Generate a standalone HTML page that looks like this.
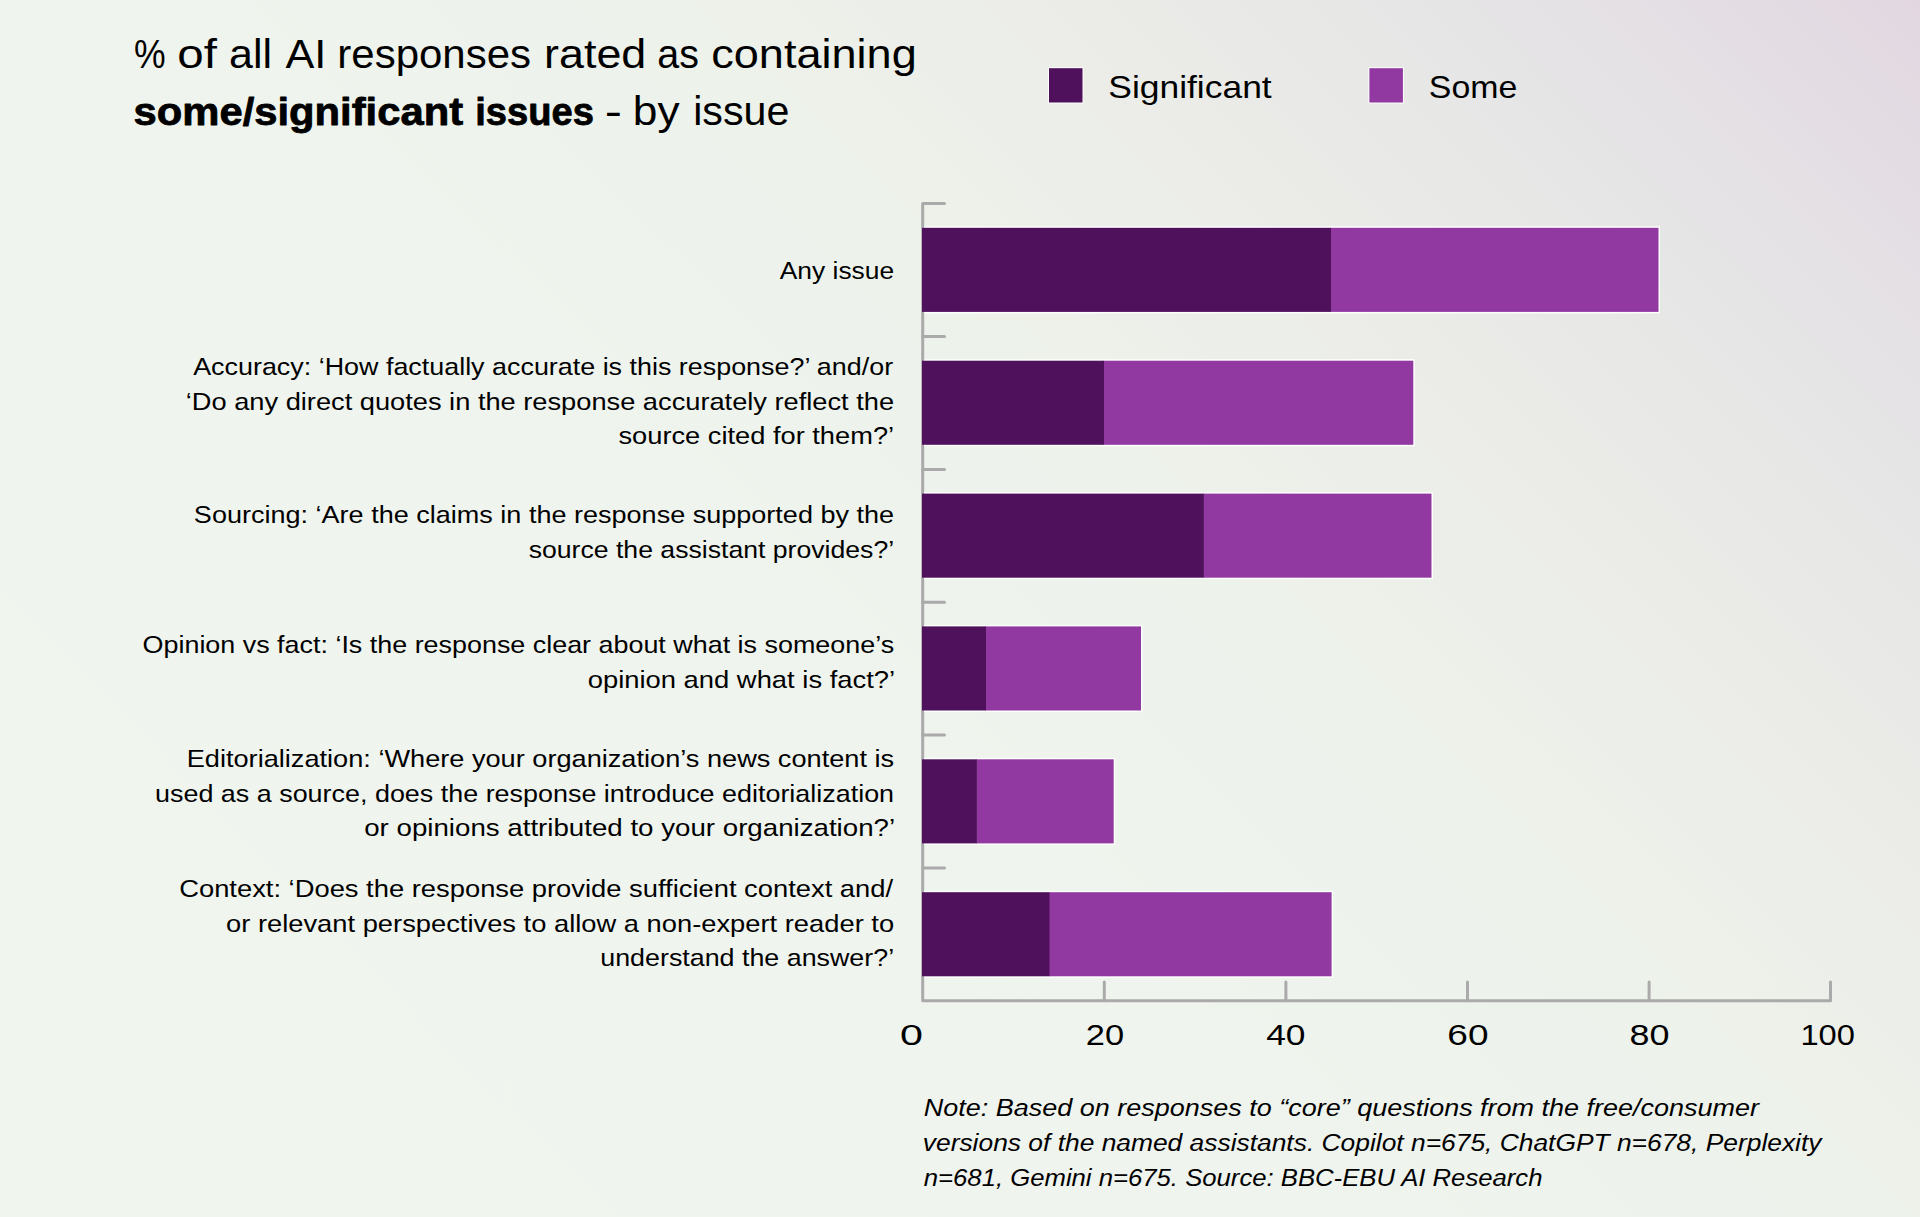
<!DOCTYPE html>
<html lang="en">
<head>
<meta charset="utf-8">
<title>% of all AI responses rated as containing some/significant issues - by issue</title>
<style>
html,body{margin:0;padding:0;}
body{width:1920px;height:1217px;overflow:hidden;position:relative;
 background:linear-gradient(45deg,#f0f5ee 0%,#f0f4ee 39%,#edf3ec 55%,#edf1ea 63%,#ecefe9 67%,#ecede8 71%,#e6e6e6 83.4%,#e4dfe4 91.7%,#e2d7e1 100%);
 font-family:"Liberation Sans",sans-serif;color:#111;}
svg{position:absolute;left:0;top:0;display:block;}
text{font-family:"Liberation Sans",sans-serif;fill:#000;}
.lab{font-size:24.2px;}
.axl{font-size:30.3px;}
.foot{font-size:24.3px;font-style:italic;}
.title{font-size:39.8px;}
.titleb{font-size:39.6px;font-weight:bold;stroke:#000;stroke-width:.8px;stroke-linejoin:round;}
.leg{font-size:31.3px;}
</style>
</head>
<body>
<svg width="1920" height="1217" viewBox="0 0 1920 1217">
<g fill="none" stroke="#aaaaaa" stroke-width="3.0" stroke-linecap="round" stroke-linejoin="round">
<path d="M944.5 203.6 H922.7 V1000.8 H1830.5 V982"/>
<path d="M922.7 336.5 H944.5"/>
<path d="M922.7 469.4 H944.5"/>
<path d="M922.7 602.2 H944.5"/>
<path d="M922.7 735.1 H944.5"/>
<path d="M922.7 868.0 H944.5"/>
<path d="M1104.3 1000.8 V982"/>
<path d="M1285.9 1000.8 V982"/>
<path d="M1467.5 1000.8 V982"/>
<path d="M1649.1 1000.8 V982"/>
</g>
<rect x="925.7" y="227.8" width="732.8" height="84.1" fill="none" stroke="#ffffff" stroke-opacity=".95" stroke-width="3"/>
<rect x="1330.5" y="227.8" width="328.0" height="84.1" fill="#9139a1"/>
<rect x="922.0" y="227.8" width="409.0" height="84.1" fill="#4f115c"/>
<rect x="925.7" y="360.7" width="487.6" height="84.1" fill="none" stroke="#ffffff" stroke-opacity=".95" stroke-width="3"/>
<rect x="1103.5" y="360.7" width="309.8" height="84.1" fill="#9139a1"/>
<rect x="922.0" y="360.7" width="182.0" height="84.1" fill="#4f115c"/>
<rect x="925.7" y="493.6" width="505.8" height="84.1" fill="none" stroke="#ffffff" stroke-opacity=".95" stroke-width="3"/>
<rect x="1203.4" y="493.6" width="228.1" height="84.1" fill="#9139a1"/>
<rect x="922.0" y="493.6" width="281.9" height="84.1" fill="#4f115c"/>
<rect x="925.7" y="626.4" width="215.2" height="84.1" fill="none" stroke="#ffffff" stroke-opacity=".95" stroke-width="3"/>
<rect x="985.5" y="626.4" width="155.5" height="84.1" fill="#9139a1"/>
<rect x="922.0" y="626.4" width="64.0" height="84.1" fill="#4f115c"/>
<rect x="925.7" y="759.3" width="188.0" height="84.1" fill="none" stroke="#ffffff" stroke-opacity=".95" stroke-width="3"/>
<rect x="976.4" y="759.3" width="137.3" height="84.1" fill="#9139a1"/>
<rect x="922.0" y="759.3" width="54.9" height="84.1" fill="#4f115c"/>
<rect x="925.7" y="892.2" width="405.9" height="84.1" fill="none" stroke="#ffffff" stroke-opacity=".95" stroke-width="3"/>
<rect x="1049.0" y="892.2" width="282.6" height="84.1" fill="#9139a1"/>
<rect x="922.0" y="892.2" width="127.5" height="84.1" fill="#4f115c"/>
<rect x="1049.0" y="68.2" width="33.5" height="34.3" fill="none" stroke="#fff" stroke-opacity=".9" stroke-width="2"/>
<rect x="1049.0" y="68.2" width="33.5" height="34.3" fill="#4f115c"/>
<rect x="1369.4" y="68.2" width="33.5" height="34.3" fill="none" stroke="#fff" stroke-opacity=".9" stroke-width="2"/>
<rect x="1369.4" y="68.2" width="33.5" height="34.3" fill="#9139a1"/>
<text class="title" x="133.93" y="68.00" textLength="31.61" lengthAdjust="spacingAndGlyphs">%</text>
<text class="title" x="177.30" y="68.00" textLength="39.61" lengthAdjust="spacingAndGlyphs">of</text>
<text class="title" x="229.04" y="68.00" textLength="43.04" lengthAdjust="spacingAndGlyphs">all</text>
<text class="title" x="285.50" y="68.00" textLength="40.89" lengthAdjust="spacingAndGlyphs">AI</text>
<text class="title" x="337.34" y="68.00" textLength="193.70" lengthAdjust="spacingAndGlyphs">responses</text>
<text class="title" x="544.08" y="68.00" textLength="102.21" lengthAdjust="spacingAndGlyphs">rated</text>
<text class="title" x="657.36" y="68.00" textLength="41.63" lengthAdjust="spacingAndGlyphs">as</text>
<text class="title" x="711.23" y="68.00" textLength="205.55" lengthAdjust="spacingAndGlyphs">containing</text>
<text class="titleb" x="133.59" y="124.50" textLength="329.51" lengthAdjust="spacingAndGlyphs">some/significant</text>
<text class="titleb" x="475.23" y="124.50" textLength="118.70" lengthAdjust="spacingAndGlyphs">issues</text>
<text class="title" x="604.85" y="124.50" textLength="17.24" lengthAdjust="spacingAndGlyphs">-</text>
<text class="title" x="632.85" y="124.50" textLength="46.81" lengthAdjust="spacingAndGlyphs">by</text>
<text class="title" x="693.19" y="124.50" textLength="96.20" lengthAdjust="spacingAndGlyphs">issue</text>
<text class="leg" x="1108.25" y="98.30" textLength="163.46" lengthAdjust="spacingAndGlyphs">Significant</text>
<text class="leg" x="1428.81" y="98.40" textLength="88.47" lengthAdjust="spacingAndGlyphs">Some</text>
<text class="lab" x="779.79" y="279.40" textLength="114.32" lengthAdjust="spacingAndGlyphs">Any issue</text>
<text class="lab" x="193.20" y="374.90" textLength="699.90" lengthAdjust="spacingAndGlyphs">Accuracy: ‘How factually accurate is this response?’ and/or</text>
<text class="lab" x="185.79" y="409.50" textLength="708.31" lengthAdjust="spacingAndGlyphs">‘Do any direct quotes in the response accurately reflect the</text>
<text class="lab" x="618.48" y="444.00" textLength="275.63" lengthAdjust="spacingAndGlyphs">source cited for them?’</text>
<text class="lab" x="193.89" y="523.00" textLength="700.21" lengthAdjust="spacingAndGlyphs">Sourcing: ‘Are the claims in the response supported by the</text>
<text class="lab" x="528.70" y="557.60" textLength="365.42" lengthAdjust="spacingAndGlyphs">source the assistant provides?’</text>
<text class="lab" x="142.59" y="653.20" textLength="751.51" lengthAdjust="spacingAndGlyphs">Opinion vs fact: ‘Is the response clear about what is someone’s</text>
<text class="lab" x="587.69" y="687.70" textLength="307.43" lengthAdjust="spacingAndGlyphs">opinion and what is fact?’</text>
<text class="lab" x="186.69" y="767.00" textLength="707.41" lengthAdjust="spacingAndGlyphs">Editorialization: ‘Where your organization’s news content is</text>
<text class="lab" x="154.99" y="801.55" textLength="739.12" lengthAdjust="spacingAndGlyphs">used as a source, does the response introduce editorialization</text>
<text class="lab" x="364.19" y="835.90" textLength="530.92" lengthAdjust="spacingAndGlyphs">or opinions attributed to your organization?’</text>
<text class="lab" x="179.20" y="897.00" textLength="713.90" lengthAdjust="spacingAndGlyphs">Context: ‘Does the response provide sufficient context and/</text>
<text class="lab" x="226.00" y="931.55" textLength="668.11" lengthAdjust="spacingAndGlyphs">or relevant perspectives to allow a non-expert reader to</text>
<text class="lab" x="600.29" y="966.00" textLength="293.83" lengthAdjust="spacingAndGlyphs">understand the answer?’</text>
<text class="axl" x="900.02" y="1045.30" textLength="22.94" lengthAdjust="spacingAndGlyphs">0</text>
<text class="axl" x="1085.77" y="1045.30" textLength="38.30" lengthAdjust="spacingAndGlyphs">20</text>
<text class="axl" x="1266.18" y="1045.30" textLength="39.31" lengthAdjust="spacingAndGlyphs">40</text>
<text class="axl" x="1447.31" y="1045.30" textLength="41.18" lengthAdjust="spacingAndGlyphs">60</text>
<text class="axl" x="1629.51" y="1045.30" textLength="39.96" lengthAdjust="spacingAndGlyphs">80</text>
<text class="axl" x="1800.43" y="1045.30" textLength="54.49" lengthAdjust="spacingAndGlyphs">100</text>
<text class="foot" x="923.80" y="1116.20" textLength="835.20" lengthAdjust="spacingAndGlyphs">Note: Based on responses to “core” questions from the free/consumer</text>
<text class="foot" x="922.80" y="1150.90" textLength="898.70" lengthAdjust="spacingAndGlyphs">versions of the named assistants. Copilot n=675, ChatGPT n=678, Perplexity</text>
<text class="foot" x="923.80" y="1185.60" textLength="618.71" lengthAdjust="spacingAndGlyphs">n=681, Gemini n=675. Source: BBC-EBU AI Research</text>
</svg>
</body>
</html>
